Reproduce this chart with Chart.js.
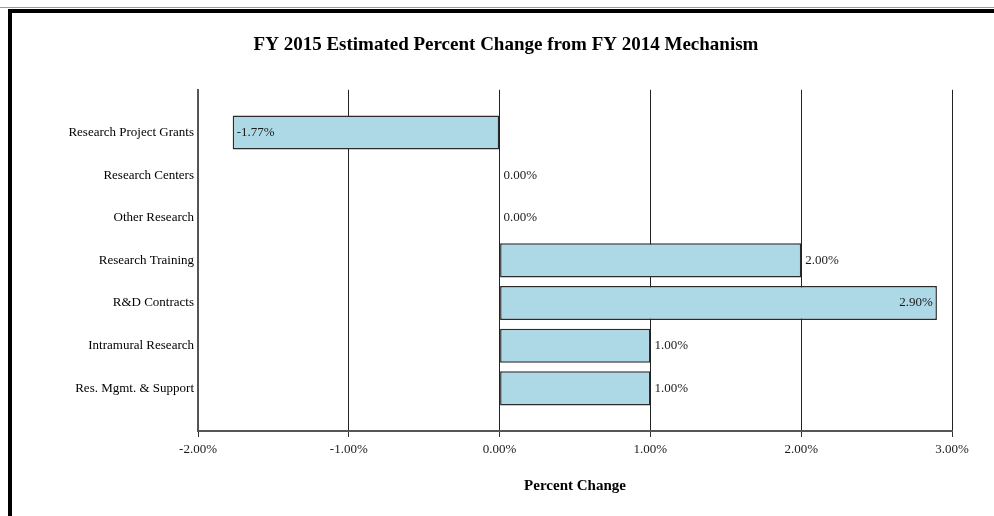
<!DOCTYPE html>
<html>
<head>
<meta charset="utf-8">
<script src="https://cdn.jsdelivr.net/npm/chart.js@4"></script>
<style>
  html, body { margin: 0; padding: 0; background: #fff; }
  #wrap { position: relative; width: 994px; height: 516px; }
  #topline { position: absolute; left: 0; top: 7px; width: 994px; height: 1px; background: #9a9a9a; }
  #frame { position: absolute; left: 8px; top: 9px; width: 986px; height: 507px;
           border-top: 4px solid #000; border-left: 4px solid #000; box-sizing: border-box; }
  canvas { position: absolute; left: 0; top: 0; }
</style>
</head>
<body>
<div id="wrap">
  <canvas id="chart" width="994" height="516"></canvas>
  <div id="topline"></div>
  <div id="frame"></div>
</div>
<script>
// Données du graphique
const categories = [
  "Research Project Grants",
  "Research Centers",
  "Other Research",
  "Research Training",
  "R&D Contracts",
  "Intramural Research",
  "Res. Mgmt. & Support",
];
const percentChange = [-1.77, 0.0, 0.0, 2.0, 2.9, 1.0, 1.0];
const xTicks = [-2, -1, 0, 1, 2, 3];

const serif = "'Liberation Serif', 'Times New Roman', serif";

// Une ligne vide en haut et en bas pour l'espacement des barres
const labels = [""].concat(categories, [""]);
const values = [null].concat(percentChange, [null]);

// Étiquettes de valeur sur les barres
const valueLabels = {
  id: "valueLabels",
  afterDatasetsDraw(chart) {
    const ctx = chart.ctx;
    const area = chart.chartArea;
    const meta = chart.getDatasetMeta(0);
    ctx.save();
    ctx.font = "13px " + serif;
    ctx.fillStyle = "#1a1a1a";
    ctx.textBaseline = "middle";
    meta.data.forEach((bar, i) => {
      const v = values[i];
      if (v === null || v === undefined) return;
      const txt = v.toFixed(2) + "%";
      const w = ctx.measureText(txt).width;
      if (v < 0) {
        ctx.textAlign = "left";
        ctx.fillText(txt, bar.x + 4, bar.y);
      } else if (bar.x + 4 + w > area.right - 2) {
        ctx.textAlign = "right";
        ctx.fillText(txt, bar.x - 4, bar.y);
      } else {
        ctx.textAlign = "left";
        ctx.fillText(txt, bar.x + 4, bar.y);
      }
    });
    ctx.restore();
  },
};

new Chart(document.getElementById("chart"), {
  type: "bar",
  data: {
    labels: labels,
    datasets: [
      {
        data: values,
        backgroundColor: "#add8e6",
        borderColor: "#2b2b2b",
        borderWidth: 1.5,
        borderSkipped: false,
        barPercentage: 1,
        categoryPercentage: 0.8,
      },
    ],
  },
  options: {
    indexAxis: "y",
    responsive: false,
    animation: false,
    layout: { padding: { left: 60, right: 42, top: 12, bottom: 0 } },
    plugins: {
      legend: { display: false },
      tooltip: { enabled: false },
      title: {
        display: true,
        text: "FY 2015 Estimated Percent Change from FY 2014 Mechanism",
        color: "#000",
        font: { family: serif, size: 19, weight: "bold", lineHeight: 1.2 },
        padding: { top: 22, bottom: 33 },
      },
    },
    scales: {
      y: {
        type: "category",
        offset: false,
        grid: { display: false, drawTicks: false },
        border: { display: true, color: "#555", width: 2 },
        ticks: {
          color: "#000",
          padding: 4,
          autoSkip: false,
          font: { family: serif, size: 13 },
        },
        afterFit(scale) {
          scale.width = 138;
        },
      },
      x: {
        min: xTicks[0],
        max: xTicks[xTicks.length - 1],
        afterBuildTicks(scale) {
          scale.ticks = xTicks.map((v) => ({ value: v }));
        },
        grid: { color: "#222", lineWidth: 1, drawTicks: true, tickLength: 6, tickColor: "#333" },
        border: { display: true, color: "#555", width: 2 },
        ticks: {
          color: "#1a1a1a",
          padding: 5,
          font: { family: serif, size: 13 },
          callback: (v) => Number(v).toFixed(2) + "%",
        },
        title: {
          display: true,
          text: "Percent Change",
          color: "#000",
          font: { family: serif, size: 15, weight: "bold", lineHeight: 1.2 },
          padding: { top: 4, bottom: 21 },
        },
        afterFit(scale) {
          scale.height = 85;
        },
      },
    },
  },
  plugins: [valueLabels],
});
</script>
</body>
</html>
